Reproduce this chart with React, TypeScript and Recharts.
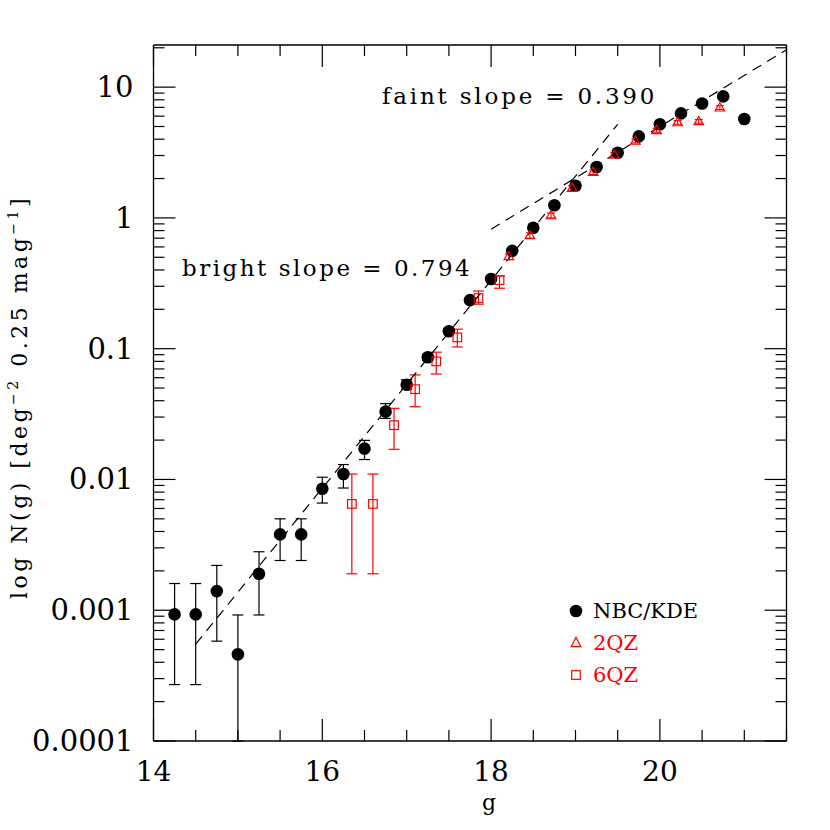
import React from 'react';
import { ComposedChart, Scatter, XAxis, YAxis, ErrorBar, Legend } from 'recharts';

// NBC/KDE counts
const nbcG = [14.25, 14.5, 14.75, 15.0, 15.25, 15.5, 15.75, 16.0, 16.25, 16.5, 16.75, 17.0, 17.25, 17.5, 17.75, 18.0, 18.25, 18.5, 18.75, 19.0, 19.25, 19.5, 19.75, 20.0, 20.25, 20.5, 20.75, 21.0];
const nbcN = [0.00093, 0.00093, 0.0014, 0.00046, 0.0019, 0.0038, 0.0038, 0.0085, 0.011, 0.0172, 0.033, 0.053, 0.086, 0.136, 0.235, 0.341, 0.56, 0.84, 1.25, 1.76, 2.45, 3.15, 4.2, 5.2, 6.3, 7.5, 8.5, 5.7];
const nbcLo = [0.00027, 0.00027, 0.00058, 0.0001, 0.00092, 0.0024, 0.0024, 0.0066, 0.0086, 0.0142, 0.0293, 0.049, 0.081, 0.13, 0.225, 0.341, 0.56, 0.84, 1.25, 1.76, 2.45, 3.15, 4.2, 5.2, 6.3, 7.5, 8.5, 5.7];
const nbcHi = [0.0016, 0.0016, 0.0022, 0.00092, 0.0028, 0.005, 0.005, 0.0104, 0.013, 0.0199, 0.038, 0.058, 0.091, 0.142, 0.245, 0.341, 0.56, 0.84, 1.25, 1.76, 2.45, 3.15, 4.2, 5.2, 6.3, 7.5, 8.5, 5.7];

// 2QZ counts
const qz2G = [18.21, 18.46, 18.71, 18.96, 19.21, 19.46, 19.71, 19.96, 20.21, 20.46, 20.71];
const qz2N = [0.51, 0.74, 1.05, 1.7, 2.25, 3.05, 3.9, 4.7, 5.4, 5.5, 7.0];
const qz2Lo = [0.48, 0.7, 1.0, 1.62, 2.15, 2.92, 3.75, 4.52, 5.2, 5.3, 6.75];
const qz2Hi = [0.53, 0.77, 1.09, 1.76, 2.33, 3.15, 4.02, 4.85, 5.55, 5.65, 7.2];

// 6QZ counts
const qz6G = [16.35, 16.6, 16.85, 17.1, 17.35, 17.6, 17.85, 18.1];
const qz6N = [0.0065, 0.0065, 0.026, 0.049, 0.08, 0.122, 0.244, 0.334];
const qz6Lo = [0.0019, 0.0019, 0.017, 0.036, 0.064, 0.103, 0.219, 0.29];
const qz6Hi = [0.011, 0.011, 0.035, 0.063, 0.094, 0.141, 0.276, 0.36];

// fitted power laws (end points)
const brightFitG = [14.5, 19.5];
const brightFitN = [0.00055, 5.2];
const faintFitG = [18.0, 21.5];
const faintFitN = [0.82, 19.3];

// axes
const xTicks = [14, 14.5, 15, 15.5, 16, 16.5, 17, 17.5, 18, 18.5, 19, 19.5, 20, 20.5, 21, 21.5];
const xMajor = [14, 16, 18, 20];
const yMajor = [0.0001, 0.001, 0.01, 0.1, 1, 10];
const yMajorLabels = ['0.0001', '0.001', '0.01', '0.1', '1', '10'];
const yMinorMult = [2, 3, 4, 5, 6, 7, 8, 9];

const seriesNames = ['NBC/KDE', '2QZ', '6QZ'];
const seriesColors = ['#000000', '#ff0000', '#ff0000'];

const FONT = 'DejaVu Serif';
const RED = '#ff0000';

const yTicks: number[] = [];
yMajor.forEach((d) => {
  yTicks.push(d);
  if (d < 10) yMinorMult.forEach((m) => yTicks.push(d * m));
  else [2].forEach((m) => yTicks.push(d * m));
});

const build = (g: number[], n: number[], lo?: number[], hi?: number[]) =>
  g.map((gv, i) => ({
    g: gv,
    n: n[i],
    err: lo && hi ? [n[i] - lo[i], hi[i] - n[i]] : [0, 0],
  }));

const nbcData = build(nbcG, nbcN, nbcLo, nbcHi);
const qz2Data = build(qz2G, qz2N, qz2Lo, qz2Hi);
const qz6Data = build(qz6G, qz6N, qz6Lo, qz6Hi);
const brightData = build(brightFitG, brightFitN);
const faintData = build(faintFitG, faintFitN);

const isMajorX = (v: number) => xMajor.some((m) => Math.abs(m - v) < 1e-6);
const majorYIndex = (v: number) => yMajor.findIndex((m) => Math.abs(m - v) / m < 1e-6);

const BottomTick = (props: any) => {
  const { x, y, payload } = props;
  const major = isMajorX(payload.value);
  return (
    <g>
      <line x1={x} x2={x} y1={y} y2={y - (major ? 22 : 11)} stroke="#000" strokeWidth={1.2} />
      {major && (
        <text x={x} y={y + 40} textAnchor="middle" fontFamily={FONT} fontSize={28} fill="#000">
          {payload.value}
        </text>
      )}
    </g>
  );
};

const TopTick = (props: any) => {
  const { x, y, payload } = props;
  const major = isMajorX(payload.value);
  return <line x1={x} x2={x} y1={y} y2={y + (major ? 22 : 11)} stroke="#000" strokeWidth={1.2} />;
};

const LeftTick = (props: any) => {
  const { x, y, payload } = props;
  const idx = majorYIndex(payload.value);
  const major = idx >= 0;
  return (
    <g>
      <line x1={x} x2={x + (major ? 22 : 11)} y1={y} y2={y} stroke="#000" strokeWidth={1.2} />
      {major && (
        <text x={x - 20} y={y + 10} textAnchor="end" fontFamily={FONT} fontSize={29} fill="#000">
          {yMajorLabels[idx]}
        </text>
      )}
    </g>
  );
};

const RightTick = (props: any) => {
  const { x, y, payload } = props;
  const major = majorYIndex(payload.value) >= 0;
  return <line x1={x} x2={x - (major ? 22 : 11)} y1={y} y2={y} stroke="#000" strokeWidth={1.2} />;
};

const Dot = (p: any) => <circle cx={p.cx} cy={p.cy} r={6.3} fill="#000" />;
const Tri = (p: any) => (
  <polygon
    points={`${p.cx - 4.8},${p.cy + 3.6} ${p.cx + 4.8},${p.cy + 3.6} ${p.cx},${p.cy - 4.6}`}
    fill="none"
    stroke={RED}
    strokeWidth={1.2}
  />
);
const Sq = (p: any) => (
  <rect x={p.cx - 4.3} y={p.cy - 4.3} width={8.6} height={8.6} fill="none" stroke={RED} strokeWidth={1.2} />
);
const NoShape = () => <g />;

const LegendContent = () => (
  <svg width={170} height={110} style={{ display: 'block' }}>
    <circle cx={16} cy={21} r={6.3} fill={seriesColors[0]} />
    <polygon points="11.2,56.6 20.8,56.6 16,47.4" fill="none" stroke={seriesColors[1]} strokeWidth={1.2} />
    <rect x={11.7} y={80.7} width={8.6} height={8.6} fill="none" stroke={seriesColors[2]} strokeWidth={1.2} />
    {seriesNames.map((nm, i) => (
      <text key={nm} x={33} y={28 + i * 32} fontFamily={FONT} fontSize={21} fill={seriesColors[i]}>
        {nm}
      </text>
    ))}
  </svg>
);

const axisLineStyle = { stroke: '#000', strokeWidth: 1.3 };

export default function App() {
  return (
    <div style={{ position: 'absolute', left: 0, top: 0, width: 830, height: 830, background: '#fff' }}>
      <ComposedChart
        width={830}
        height={830}
        margin={{ top: 44, right: 42.5, bottom: 88, left: 152.5 }}
      >
        <XAxis
          xAxisId={0}
          dataKey="g"
          type="number"
          domain={[14, 21.5]}
          ticks={xTicks}
          interval={0}
          allowDataOverflow
          height={1}
          tickSize={0}
          tickMargin={0}
          tickLine={false}
          axisLine={axisLineStyle}
          tick={<BottomTick />}
        />
        <XAxis
          xAxisId="top"
          orientation="top"
          dataKey="g"
          type="number"
          domain={[14, 21.5]}
          ticks={xTicks}
          interval={0}
          allowDataOverflow
          height={1}
          tickSize={0}
          tickMargin={0}
          tickLine={false}
          axisLine={axisLineStyle}
          tick={<TopTick />}
        />
        <YAxis
          yAxisId={0}
          dataKey="n"
          type="number"
          scale="log"
          domain={[0.0001, 21]}
          ticks={yTicks}
          interval={0}
          allowDataOverflow
          width={1}
          tickSize={0}
          tickMargin={0}
          tickLine={false}
          axisLine={axisLineStyle}
          tick={<LeftTick />}
        />
        <YAxis
          yAxisId="right"
          orientation="right"
          dataKey="n"
          type="number"
          scale="log"
          domain={[0.0001, 21]}
          ticks={yTicks}
          interval={0}
          allowDataOverflow
          width={1}
          tickSize={0}
          tickMargin={0}
          tickLine={false}
          axisLine={axisLineStyle}
          tick={<RightTick />}
        />

        <Scatter
          name="bright fit"
          data={brightData}
          dataKey="n"
          legendType="none"
          shape={NoShape}
          line={{ stroke: '#000', strokeWidth: 1.2, strokeDasharray: '10 7' }}
          isAnimationActive={false}
        />
        <Scatter
          name="faint fit"
          data={faintData}
          dataKey="n"
          legendType="none"
          shape={NoShape}
          line={{ stroke: '#000', strokeWidth: 1.2, strokeDasharray: '10 7' }}
          isAnimationActive={false}
        />

        <Scatter name={seriesNames[0]} data={nbcData} dataKey="n" shape={Dot} isAnimationActive={false}>
          <ErrorBar dataKey="err" direction="y" width={5.5} stroke="#000" strokeWidth={1.2} isAnimationActive={false} />
        </Scatter>
        <Scatter name={seriesNames[1]} data={qz2Data} dataKey="n" shape={Tri} isAnimationActive={false}>
          <ErrorBar dataKey="err" direction="y" width={4} stroke={RED} strokeWidth={1.1} isAnimationActive={false} />
        </Scatter>
        <Scatter name={seriesNames[2]} data={qz6Data} dataKey="n" shape={Sq} isAnimationActive={false}>
          <ErrorBar dataKey="err" direction="y" width={5.5} stroke={RED} strokeWidth={1.2} isAnimationActive={false} />
        </Scatter>

        <Legend
          layout="vertical"
          align="center"
          verticalAlign="middle"
          content={<LegendContent />}
          wrapperStyle={{ position: 'absolute', left: 560, top: 590, width: 170, height: 110 }}
        />

        <text x={382} y={104} fontFamily={FONT} fontSize={23} letterSpacing={2.8} fill="#000">
          faint slope = 0.390
        </text>
        <text x={182} y={276} fontFamily={FONT} fontSize={23} letterSpacing={2.5} fill="#000">
          bright slope = 0.794
        </text>
        <text x={489} y={810} textAnchor="middle" fontFamily={FONT} fontSize={22} fill="#000">
          g
        </text>
        <text
          x={27}
          y={397}
          transform="rotate(-90, 27, 397)"
          textAnchor="middle"
          fontFamily={FONT}
          fontSize={22}
          letterSpacing={3.5}
          fill="#000"
        >
          log N(g) [deg
          <tspan fontSize={14} dy={-9}>−2</tspan>
          <tspan dy={9}> 0.25 mag</tspan>
          <tspan fontSize={14} dy={-9}>−1</tspan>
          <tspan dy={9}>]</tspan>
        </text>
      </ComposedChart>
    </div>
  );
}
